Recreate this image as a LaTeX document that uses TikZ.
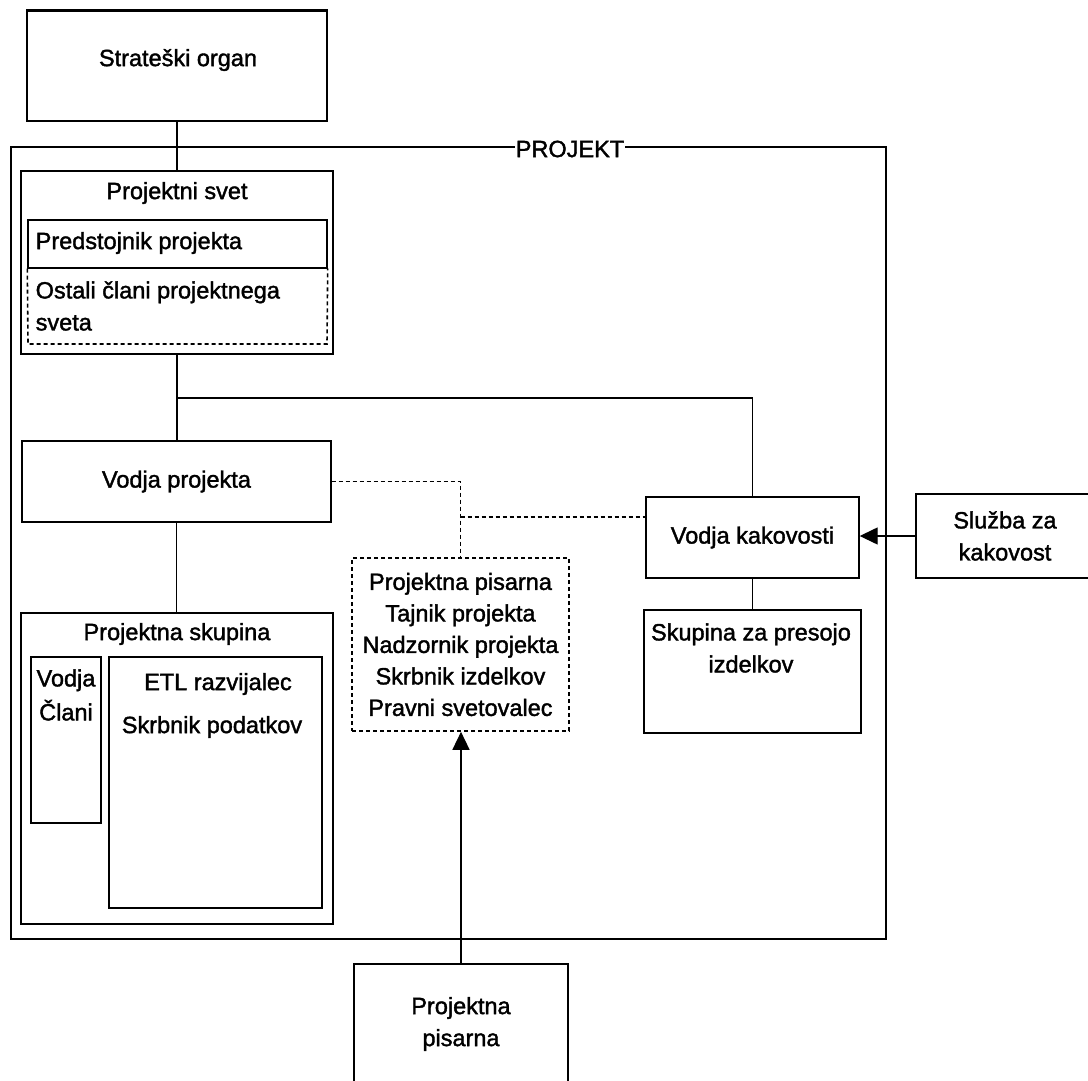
\documentclass[tikz,border=0pt]{standalone}
\usepackage{fontspec}
\setmainfont{Liberation Sans}[FakeBold=1.6]
\usetikzlibrary{arrows.meta}
\begin{document}
\begin{tikzpicture}[x=1pt,y=-1pt,line width=1.4pt,
  every node/.style={font=\fontsize{23.5}{32}\selectfont, inner sep=0pt},
  bx/.style={draw, line width=1.4pt, inner sep=0pt},
  dbx/.style={draw, dash pattern=on 4pt off 3pt, line width=1.6pt, inner sep=0pt},
  dl/.style={dash pattern=on 4pt off 3pt, line width=1.6pt},
  arr/.style={-{Triangle[length=18pt,width=17pt]}}]
\useasboundingbox (0,0) rectangle (1088,1081);
% Strateski organ
\node[bx, minimum width=300, minimum height=110] (strat) at (177,66) {};
\draw[line width=3.5pt] (strat.north west) -- (strat.north east);
\node (tstrat) at (178,60) {Strateški organ};
% PROJEKT frame
\node[bx, minimum width=875, minimum height=792] (frame) at (448.5,543) {};
\node[fill=white, inner xsep=1pt, inner ysep=0pt] (tproj) at (570,149) {PROJEKT};
% Projektni svet
\node[bx, minimum width=312, minimum height=183] (svet) at (177,262.5) {};
\node (tsvet) at (177,193) {Projektni svet};
\node[bx, minimum width=299, minimum height=48] (pred) at (177.5,244) {};
\node[anchor=west] (tpred) at (35,243) {Predstojnik projekta};
\coordinate (osw) at (28,344);
\coordinate (ose) at (327,344);
\draw[dl] (pred.south west) -- (osw) -- (ose) -- (pred.south east);
\node[anchor=west, align=left] (tost) at (35,306) {Ostali člani projektnega\\sveta};
\draw (strat.south) -- (strat.south |- svet.north);
% Vodja projekta
\node[bx, minimum width=309, minimum height=81] (vp) at (176.5,481.5) {Vodja projekta};
\draw (svet.south) -- (svet.south |- vp.north);
\coordinate (j1) at (177,398);
% Vodja kakovosti
\node[bx, minimum width=213, minimum height=81] (vk) at (752.5,537.5) {Vodja kakovosti};
\draw (j1) -| (vk.north);
% Projektna skupina
\node[bx, minimum width=312, minimum height=311] (skup) at (177,768.5) {};
\node (tskup) at (177,634) {Projektna skupina};
\draw (vp.south) -- (vp.south |- skup.north);
\node[bx, minimum width=70, minimum height=166] (clbox) at (66,740) {};
\node[align=center] (tcl) at (66,695) {Vodja\\[2pt]Člani};
\node[bx, minimum width=213, minimum height=251] (etl) at (215.5,782.5) {};
\node (tetl) at (218,684) {ETL razvijalec};
\node (tskr) at (212,727) {Skrbnik podatkov};
% Projektna pisarna (dashed)
\node[dbx, minimum width=217, minimum height=173, align=center,
  font=\fontsize{23.5}{31.5}\selectfont] (pis) at (460.5,644.5)
  {Projektna pisarna\\Tajnik projekta\\Nadzornik projekta\\Skrbnik izdelkov\\Pravni svetovalec};
\draw[dl] (vp.east) -| (pis.north);
\coordinate (d2) at (460.5,517);
\draw[dl] (d2) -- (d2 -| vk.west);
% Sluzba za kakovost
\node[bx, minimum width=178, minimum height=84, align=center] (sl) at (1005,536) {Služba za\\kakovost};
\draw[arr] (sl.west) -- (sl.west -| vk.east);
% Skupina za presojo
\node[bx, minimum width=217, minimum height=123] (sk) at (752.5,671.5) {};
\node[align=center] (tsk) at (751,648) {Skupina za presojo\\izdelkov};
\draw (vk.south) -- (vk.south |- sk.north);
% Projektna pisarna (bottom)
\node[bx, minimum width=214, minimum height=136] (pp) at (461,1032) {};
\node[align=center] (tpp) at (461,1024) {Projektna\\pisarna};
\draw[arr] (pp.north) -- (pp.north |- pis.south);
\end{tikzpicture}
\end{document}
